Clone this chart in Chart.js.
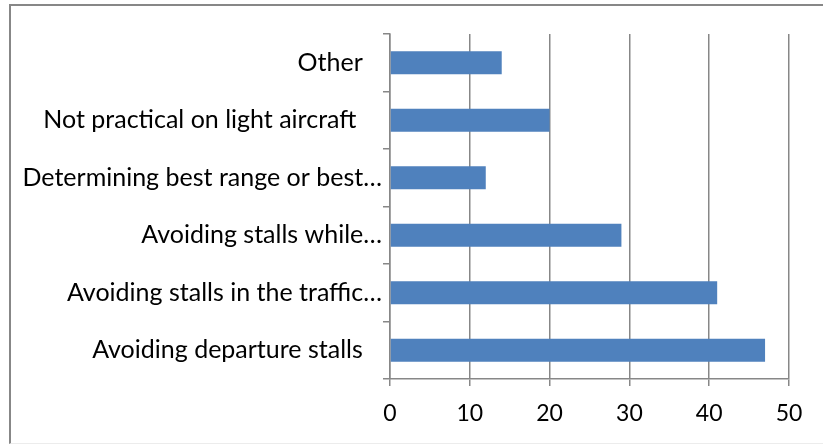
<!DOCTYPE html>
<html>
<head>
<meta charset="utf-8">
<script src="https://cdn.jsdelivr.net/npm/chart.js@4/dist/chart.umd.min.js"></script>
<style>
html,body{margin:0;padding:0;background:#fff;}
#wrap{position:relative;width:823px;height:446px;overflow:hidden;}
#frame{position:absolute;left:9px;top:4px;width:830px;height:440px;border-left:2px solid #878787;border-top:2px solid #878787;border-bottom:1px solid #ececec;box-sizing:border-box;}
canvas{position:absolute;left:0;top:0;}
</style>
</head>
<body>
<div id="wrap">
<div id="frame"></div>
<canvas id="c" width="823" height="446"></canvas>
</div>
<script>
const categories = [
  "Avoiding departure stalls   ",
  "Avoiding stalls in the traffic\u2026",
  "Avoiding stalls while\u2026",
  "Determining best range or best\u2026",
  "Not practical on light aircraft    ",
  "Other   "
];
const values = [47, 41, 29, 12, 20, 14];
const xTicks = [0, 10, 20, 30, 40, 50];

const FONT = "Lato";
const gridColor = "#878787";

new Chart(document.getElementById('c'), {
  type: 'bar',
  data: {
    labels: categories,
    datasets: [{
      data: values,
      backgroundColor: '#4F81BD',
      borderWidth: 0,
      barPercentage: 0.5,
      categoryPercentage: 0.8
    }]
  },
  options: {
    indexAxis: 'y',
    responsive: false,
    animation: false,
    devicePixelRatio: 1,
    layout: { padding: { left: 0, right: 34, top: 34, bottom: 0 } },
    plugins: { legend: { display: false }, tooltip: { enabled: false } },
    scales: {
      x: {
        min: 0, max: 50,
        afterBuildTicks: (s) => { s.ticks = xTicks.map(v => ({ value: v })); },
        afterFit: (s) => { s.height = 446 - 379; },
        grid: { color: gridColor, lineWidth: 1.5, tickLength: 7, drawOnChartArea: true },
        border: { color: gridColor, width: 1.5 },
        ticks: { color: '#000', font: { family: FONT, size: 23 }, padding: 14, maxRotation: 0 }
      },
      y: {
        reverse: true,
        afterFit: (s) => { s.width = 390; },
        grid: { drawOnChartArea: false, color: gridColor, lineWidth: 1.5, tickLength: 7, offset: true },
        border: { color: gridColor, width: 1.5 },
        ticks: { color: '#000', font: { family: FONT, size: 25 }, padding: 1, autoSkip: false }
      }
    }
  }
});
</script>
</body>
</html>
